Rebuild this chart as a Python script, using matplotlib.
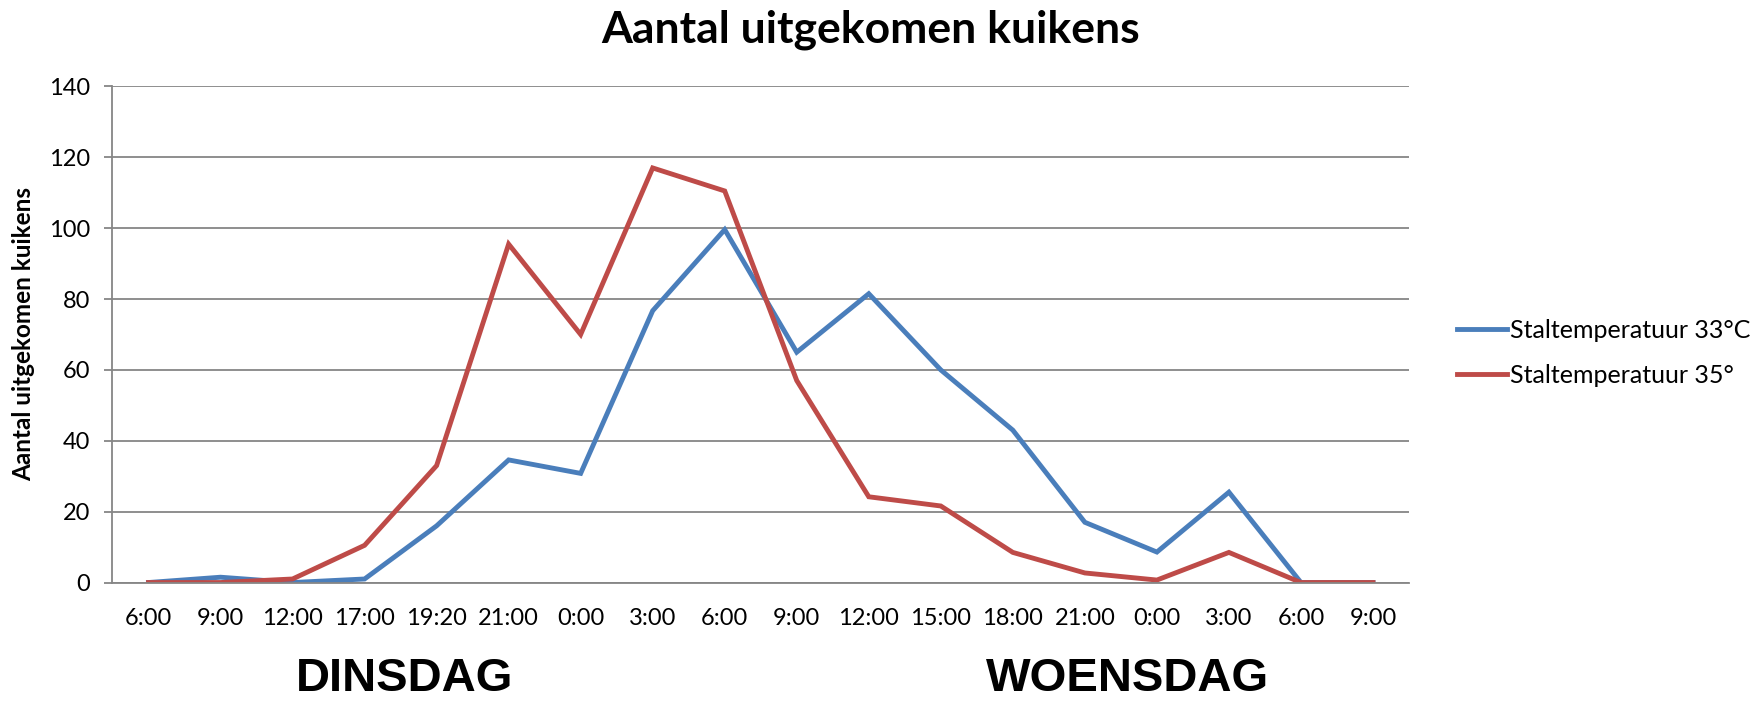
import matplotlib
matplotlib.use("Agg")
from matplotlib import pyplot as plt
import numpy as np

# data
tijden = ['6:00', '9:00', '12:00', '17:00', '19:20', '21:00', '0:00', '3:00', '6:00',
          '9:00', '12:00', '15:00', '18:00', '21:00', '0:00', '3:00', '6:00', '9:00']
temp33 = [0, 1.5, 0, 1, 16, 34.6, 30.8, 76.7, 99.6, 65, 81.5, 60, 43, 17, 8.6, 25.5, 0, 0]
temp35 = [0, 0, 1, 10.5, 33, 95.5, 70, 117, 110.5, 57, 24.2, 21.6, 8.5, 2.7, 0.7, 8.5, 0, 0]
dagen = ['DINSDAG', 'WOENSDAG']

plt.rcParams['font.family'] = ['Lato', 'DejaVu Sans']

fig = plt.figure(figsize=(17.63, 7.01), dpi=100)
ax = fig.add_axes([0.0638, 0.169, 0.7354, 0.7077])

x = np.arange(len(tijden))
ax.plot(x, temp33, color='#4A7EBB', lw=3.5, label='Staltemperatuur 33°C', solid_joinstyle='miter')
ax.plot(x, temp35, color='#BE4B48', lw=3.5, label='Staltemperatuur 35°', solid_joinstyle='miter')

ax.set_xlim(-0.5, len(tijden) - 0.5)
ax.set_ylim(0, 140)
ax.set_yticks(np.arange(0, 141, 20))
ax.set_xticks(x)
ax.set_xticklabels(tijden)
ax.tick_params(axis='x', length=0, pad=18, labelsize=17)
ax.tick_params(axis='y', length=6, color='#868686', width=1.3, pad=10, labelsize=17)
ax.grid(axis='y', color='#868686', lw=1.3)
ax.set_axisbelow(True)
for s in ['top', 'right']:
    ax.spines[s].set_visible(False)
for s in ['left', 'bottom']:
    ax.spines[s].set_color('#868686')
    ax.spines[s].set_linewidth(1.3)

ax.set_ylabel('Aantal uitgekomen kuikens', fontsize=17.5, fontweight='bold', labelpad=10)
fig.text(0.494, 0.958, 'Aantal uitgekomen kuikens', ha='center', va='center',
         fontsize=32, fontweight='bold')

fig.text(0.2297, 0.032, dagen[0], ha='center', va='center', fontsize=34,
         fontweight='bold', family='Liberation Sans')
fig.text(0.6398, 0.032, dagen[1], ha='center', va='center', fontsize=34,
         fontweight='bold', family='Liberation Sans')

ax.legend(loc='center left', bbox_to_anchor=(1.02, 0.463), frameon=False,
          fontsize=18, handlelength=2.0, handletextpad=0.1, labelspacing=0.9)

fig.savefig('out.png', dpi=100)
